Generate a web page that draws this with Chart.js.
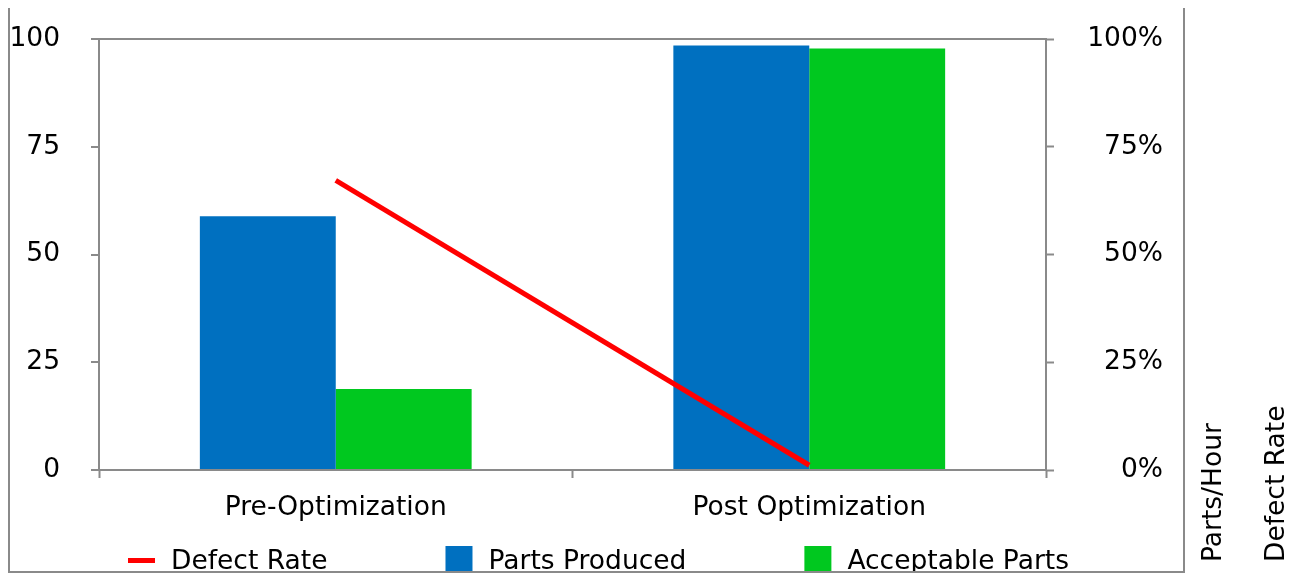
<!DOCTYPE html>
<html>
<head>
<meta charset="utf-8">
<script src="https://cdn.jsdelivr.net/npm/chart.js@4.4.1/dist/chart.umd.min.js"></script>
<style>
  html, body { margin: 0; padding: 0; background: #ffffff; }
  #wrap { width: 1296px; height: 575px; }
</style>
</head>
<body>
<div id="wrap"><canvas id="chart" width="1296" height="575"></canvas></div>
<script>
// Production figures before and after the optimization
const categories = ['Pre-Optimization', 'Post Optimization'];
const partsProduced = [58.9, 98.5];      // parts per hour
const acceptableParts = [18.8, 97.8];    // parts per hour
const defectRate = [67.2, 1.1];          // percent
const partsTicks = [0, 25, 50, 75, 100];
const rateTicks = ['0%', '25%', '50%', '75%', '100%'];

const FONT = { family: '"DejaVu Sans", Verdana, sans-serif', size: 26.5 };
const GREY = '#8a8a8a';
const TEXT = '#000000';

// Outer frame, bottom legend and the rotated axis captions on the right
const decorations = {
  id: 'decorations',
  afterDraw(chart) {
    const ctx = chart.ctx;
    ctx.save();
    ctx.font = FONT.size + 'px ' + FONT.family;
    ctx.fillStyle = TEXT;

    // legend (clipped to the frame)
    ctx.save();
    ctx.beginPath();
    ctx.rect(10, 520, 1173, 52);
    ctx.clip();
    let x = 128;
    const top = 546, box = 27, gap = 16, spacing = 118;
    chart.data.datasets.forEach(ds => {
      if (ds.type === 'line') {
        ctx.fillStyle = ds.borderColor;
        ctx.fillRect(x, top + box / 2 - 2.5 + 1, box, 5);
      } else {
        ctx.fillStyle = ds.backgroundColor;
        ctx.fillRect(x, top, box, box);
      }
      ctx.fillStyle = TEXT;
      ctx.textAlign = 'left';
      ctx.textBaseline = 'alphabetic';
      ctx.fillText(ds.label, x + box + gap, 569);
      x += box + gap + ctx.measureText(ds.label).width + spacing;
    });
    ctx.restore();

    // rotated captions
    [['Parts/Hour', 1221], ['Defect Rate', 1284]].forEach(([t, bx]) => {
      ctx.save();
      ctx.translate(bx, 562);
      ctx.rotate(-Math.PI / 2);
      ctx.textAlign = 'left';
      ctx.textBaseline = 'alphabetic';
      ctx.fillText(t, 0, 0);
      ctx.restore();
    });

    // frame
    ctx.strokeStyle = GREY;
    ctx.lineWidth = 2;
    ctx.beginPath();
    ctx.moveTo(9, 8); ctx.lineTo(9, 573);
    ctx.moveTo(8, 572); ctx.lineTo(1185, 572);
    ctx.moveTo(1184, 8); ctx.lineTo(1184, 573);
    ctx.stroke();
    ctx.restore();
  }
};

// keep the tick-label padding from pushing the plot area down
function fixWidth(w) {
  return s => { s.width = w; s.paddingTop = 0; s.paddingBottom = 0; };
}

new Chart(document.getElementById('chart'), {
  data: {
    labels: categories,
    datasets: [
      {
        type: 'line',
        label: 'Defect Rate',
        data: defectRate,
        yAxisID: 'y2',
        borderColor: '#ff0000',
        backgroundColor: '#ff0000',
        borderWidth: 5,
        pointRadius: 0,
        tension: 0,
        borderCapStyle: 'butt'
      },
      {
        type: 'bar',
        label: 'Parts Produced',
        data: partsProduced,
        yAxisID: 'y',
        backgroundColor: '#0070c0',
        barPercentage: 1,
        categoryPercentage: 0.574
      },
      {
        type: 'bar',
        label: 'Acceptable Parts',
        data: acceptableParts,
        yAxisID: 'y',
        backgroundColor: '#00c81f',
        barPercentage: 1,
        categoryPercentage: 0.574
      }
    ]
  },
  options: {
    responsive: false,
    animation: false,
    devicePixelRatio: 1,
    layout: { padding: { left: 0, right: 133, top: 39, bottom: 0 } },
    plugins: {
      legend: { display: false },
      tooltip: { enabled: false }
    },
    scales: {
      x: {
        type: 'category',
        offset: true,
        grid: {
          offset: true,
          drawOnChartArea: false,
          drawTicks: true,
          tickLength: 8,
          tickColor: GREY,
          tickWidth: 2
        },
        border: { display: true, color: GREY, width: 2 },
        ticks: { font: FONT, color: TEXT, padding: 14, maxRotation: 0, autoSkip: false },
        afterFit(s) { s.height = 105; }
      },
      y: {
        position: 'left',
        min: 0,
        max: 100,
        afterBuildTicks(s) { s.ticks = partsTicks.map(v => ({ value: v })); },
        ticks: { font: FONT, color: TEXT, padding: 31 },
        grid: {
          color: c => (c.tick && c.tick.value === 100) ? GREY : 'rgba(0,0,0,0)',
          lineWidth: 2,
          drawTicks: true,
          tickLength: 8,
          tickColor: GREY,
          tickWidth: 2
        },
        border: { display: true, color: GREY, width: 2 },
        afterFit: fixWidth(99)
      },
      y2: {
        position: 'right',
        min: 0,
        max: 100,
        afterBuildTicks(s) { s.ticks = partsTicks.map(v => ({ value: v })); },
        ticks: {
          font: FONT,
          color: TEXT,
          crossAlign: 'far',
          callback: (v, i) => rateTicks[i]
        },
        grid: {
          drawOnChartArea: false,
          drawTicks: true,
          tickLength: 8,
          tickColor: GREY,
          tickWidth: 2
        },
        border: { display: true, color: GREY, width: 2 },
        afterFit: fixWidth(117)
      }
    }
  },
  plugins: [decorations]
});
</script>
</body>
</html>
